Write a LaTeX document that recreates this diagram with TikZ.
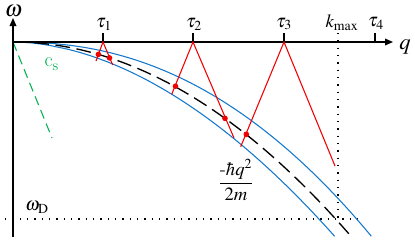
\documentclass[tikz,border=0pt]{standalone}
\usepackage{mathptmx}
\usepackage[scaled=0.92]{helvet}
\usetikzlibrary{arrows.meta}
\definecolor{cblue}{RGB}{20,120,205}
\definecolor{cgreen}{RGB}{0,178,80}
\definecolor{cred}{RGB}{240,0,0}
\begin{document}
\begin{tikzpicture}[x=0.75pt,y=-0.75pt,
 axis/.style={line width=1pt,-{Triangle[length=6pt,width=5pt]}},
 tickline/.style={line width=1pt},
 dotline/.style={line width=1.1pt,dash pattern=on 1.1pt off 4.4pt},
 bluecurve/.style={cblue,line width=0.8pt},
 centercurve/.style={black,line width=1pt,dash pattern=on 11pt off 5pt},
 ray/.style={cred,line width=0.8pt},
 hit/.style={circle,fill=cred,inner sep=0pt,minimum size=4.2pt},
 lab/.style={font=\fontsize{14}{16}\selectfont,inner sep=0pt},
 biglab/.style={font=\fontsize{17}{19}\selectfont,inner sep=0pt}]
\path[use as bounding box] (0,0) rectangle (415,243);

% coordinates
\coordinate (o) at (13,42);
\coordinate (ytop) at (13,18);
\coordinate (ybot) at (13,237);
\coordinate (xend) at (393,42);
\foreach \n/\x in {1/103,2/193,3/284,4/375}{
  \coordinate (a\n) at (\x,42);
  \coordinate (b\n) at (\x,33);
}
\coordinate (ktop) at (338,33);
\coordinate (kbot) at (338,219);
\coordinate (wl) at (5,219);
\coordinate (wr) at (362,219);
\coordinate (gend) at (52,138);

% dotted guides
\draw[dotline] (ktop) -- (kbot);
\draw[dotline] (wl) -- (wr);

% sound line
\draw[cgreen,line width=0.8pt,dash pattern=on 7pt off 4pt] (o) -- (gend);

% curves
\draw[bluecurve] (o) -- plot[domain=0.002:1,samples=120,variable=\t] ({13+358.7*\t},{42+194.7*\t^2.22});
\draw[bluecurve] (o) -- plot[domain=0.002:1,samples=120,variable=\t] ({13+322*\t},{42+194.7*\t^1.86});
\draw[centercurve] plot[domain=0:1,samples=120,variable=\t] ({13+339*\t},{42+195.4*\t*\t});

% axes
\draw[axis] (ybot) -- (ytop);
\draw[axis] (o) -- (xend);
\foreach \n in {1,2,3,4}{\draw[tickline] (a\n) -- (b\n);}

% red rays
\coordinate (e1l) at (96,61);
\coordinate (e1r) at (112.7,65);
\coordinate (e2l) at (171.7,94.3);
\coordinate (e2r) at (234,138);
\coordinate (e3l) at (240.7,146.7);
\coordinate (e3r) at (335,166);
\draw[ray] (e1l) -- (a1) -- (e1r);
\draw[ray] (e2l) -- (a2) -- (e2r);
\draw[ray] (e3l) -- (a3) -- (e3r);
\node[hit] (h1) at (98.4,54.4) {};
\node[hit] (h2) at (109.5,57.9) {};
\node[hit] (h3) at (175.5,86.2) {};
\node[hit] (h4) at (225,118.4) {};
\node[hit] (h5) at (246.3,134.3) {};

% labels
\node[biglab] (lw) at (13.5,11) {$\omega$};
\node[biglab] (lq) at (405,47) {$q$};
\node[lab] (lt1) at (104,24) {$\tau_1$};
\node[lab] (lt2) at (194,24) {$\tau_2$};
\node[lab] (lt3) at (284,24) {$\tau_3$};
\node[lab] (lt4) at (376,23) {$\tau_4$};
\node[lab] (lk) at (342,23) {$k_{\max}$};
\node[lab] (lwd) at (37,207) {$\omega_{\mathrm{D}}$};
\node[lab] (lfrac) at (236,180) {$\displaystyle\frac{\mbox{-}\hbar q^{2}}{2m}$};
\node[inner sep=0pt,text=cgreen,font=\sffamily\fontsize{15}{17}\selectfont] (lcs) at (51.5,64) {\textit{c}\raisebox{-0.4ex}{\fontsize{11}{13}\selectfont s}};
\end{tikzpicture}
\end{document}
